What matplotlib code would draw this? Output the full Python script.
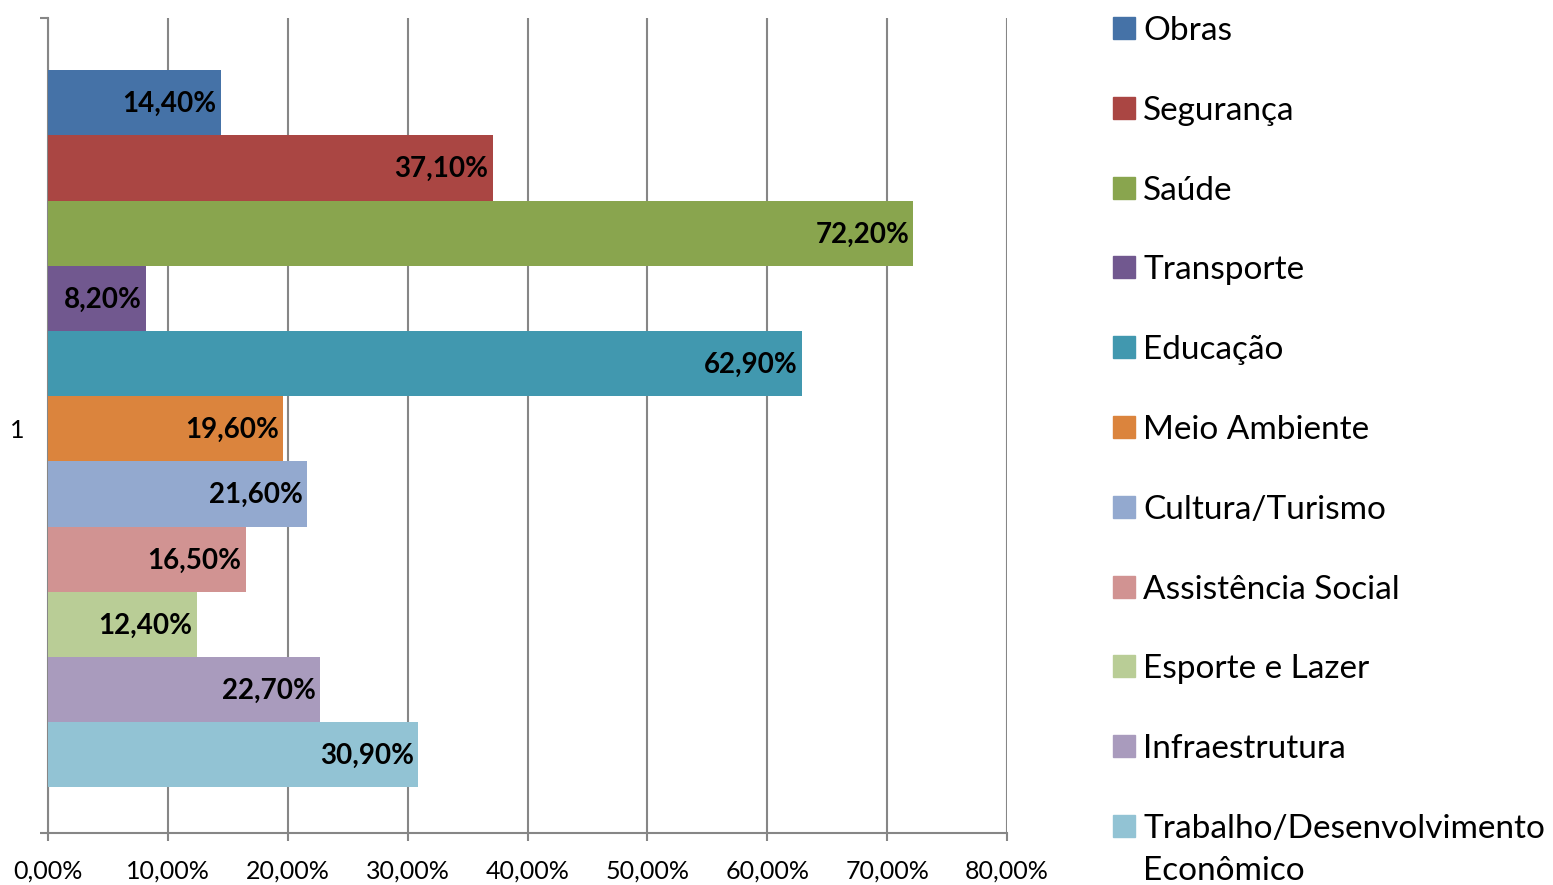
import matplotlib
matplotlib.use("Agg")
import matplotlib.pyplot as plt
from matplotlib.patches import Rectangle
from matplotlib.ticker import MultipleLocator, FuncFormatter, FixedLocator

plt.rcParams['font.family'] = ['Lato', 'DejaVu Sans']

categories = ["Obras", "Segurança", "Saúde", "Transporte", "Educação",
              "Meio Ambiente", "Cultura/Turismo", "Assistência Social",
              "Esporte e Lazer", "Infraestrutura",
              "Trabalho/Desenvolvimento\nEconômico"]
values = [14.4, 37.1, 72.2, 8.2, 62.9, 19.6, 21.6, 16.5, 12.4, 22.7, 30.9]
colors = ["#4572A7", "#AA4643", "#89A54E", "#71588F", "#4198AF", "#DB843D",
          "#93A9CF", "#D19392", "#B9CD96", "#A99BBD", "#92C3D4"]
group_label = "1"

W, H = 1553, 885
fig = plt.figure(figsize=(W / 100, H / 100), dpi=100)
ax = fig.add_axes([48 / W, (H - 833) / H, (1007 - 48) / W, (833 - 18) / H])

grey = "#868686"
pos = list(range(len(values)))
ax.barh(pos, values, height=1.0, color=colors, zorder=3)

for p, v in zip(pos, values):
    txt = f"{v:.2f}".replace(".", ",") + "%"
    ax.annotate(txt, (v, p), xytext=(-3, -1), textcoords="offset points",
                ha="right", va="center", fontsize=20, fontweight="bold",
                color="black", zorder=4)

ax.set_xlim(0, 80)
ax.set_ylim(11.2, -1.3)
ax.xaxis.set_major_locator(MultipleLocator(10))
ax.xaxis.set_major_formatter(FuncFormatter(lambda x, _: f"{x:.2f}".replace(".", ",") + "%"))
ax.grid(axis="x", color=grey, linewidth=1.5, zorder=0)
ax.set_axisbelow(True)

ax.yaxis.set_major_locator(FixedLocator([5]))
ax.set_yticklabels([group_label])
ax.yaxis.set_minor_locator(FixedLocator([-1.3, 11.2]))
ax.tick_params(axis="y", which="major", length=0, pad=17, labelsize=18)
ax.tick_params(axis="y", which="minor", length=6, width=1.5, color=grey)
ax.tick_params(axis="x", length=6, width=1.5, color=grey, labelsize=18, pad=13)

for s in ["top", "right"]:
    ax.spines[s].set_visible(False)
for s in ["left", "bottom"]:
    ax.spines[s].set_color(grey)
    ax.spines[s].set_linewidth(1.5)

# legend drawn by hand so the wrapped last entry keeps its square on the first line
y0, step, line_h = 28, 79.8, 42
for i, (name, c) in enumerate(zip(categories, colors)):
    yc = y0 + i * step
    fig.add_artist(Rectangle((1113 / W, (H - yc - 11) / H), 22 / W, 22 / H,
                             transform=fig.transFigure, color=c))
    for k, line in enumerate(name.split("\n")):
        fig.text(1143 / W, (H - yc - k * line_h) / H, line, fontsize=24,
                 va="center_baseline", ha="left")

fig.savefig("out.png", dpi=100)
